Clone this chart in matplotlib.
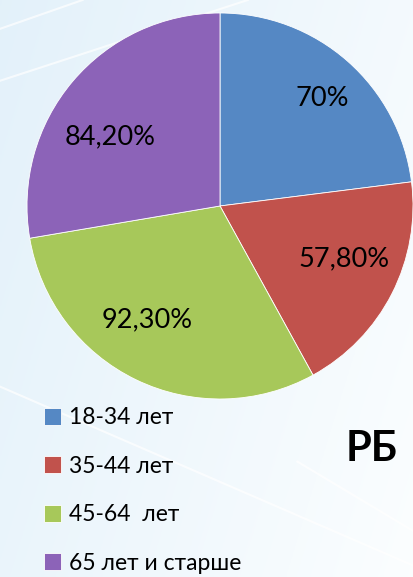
import numpy as np
import matplotlib.pyplot as plt

# данные
categories = ["18-34 лет", "35-44 лет", "45-64  лет", "65 лет и старше"]
values = [70, 57.8, 92.3, 84.2]
value_labels = ["70%", "57,80%", "92,30%", "84,20%"]
colors = ["#5588C4", "#C1524C", "#A7C85A", "#8C63B8"]
title = "РБ"

# сдвиг подписей относительно биссектрисы сектора (градусы) и радиус
label_shift = [-2, 4, -7, 8]
label_dist = [0.77, 0.70, 0.70, 0.67]

plt.rcParams['font.family'] = ['Lato', 'DejaVu Sans']

fig = plt.figure(figsize=(4.13, 5.77), dpi=100)

# фон: светло-голубой градиент с белыми линиями
bg = fig.add_axes([0, 0, 1, 1])
bg.set_axis_off()
xx, yy = np.meshgrid(np.linspace(0, 1, 200), np.linspace(0, 1, 200))
grad = np.clip(0.7 * xx + 0.3 * yy, 0, 1)
c0 = np.array([0.89, 0.945, 0.98])
c1 = np.array([0.985, 0.995, 1.0])
img = c0[None, None, :] * (1 - grad[..., None]) + c1[None, None, :] * grad[..., None]
bg.imshow(img, extent=[0, 1, 0, 1], origin="upper", aspect="auto")
for (x0, y0, x1, y1) in [(0.0, 0.86, 0.6, 1.0), (0.0, 0.95, 0.2, 1.0),
                         (0.0, 0.33, 1.0, 0.02), (0.72, 0.2, 1.0, 0.08)]:
    bg.plot([x0, x1], [y0, y1], color="white", lw=1.5, alpha=0.7)
bg.set_xlim(0, 1)
bg.set_ylim(0, 1)

# круговая диаграмма
ax = fig.add_axes([0.0654, 0.3085, 0.9346, 0.669])
wedges, texts = ax.pie(values, colors=colors, startangle=90, counterclock=False,
                       radius=1.0, wedgeprops=dict(linewidth=0.6, edgecolor="white"))
for w, lab, sh, d in zip(wedges, value_labels, label_shift, label_dist):
    ang = np.deg2rad((w.theta1 + w.theta2) / 2 + sh)
    ax.text(d * np.cos(ang), d * np.sin(ang), lab, ha="center", va="center",
            fontsize=19.5, color="black")
ax.set_xlim(-1, 1)
ax.set_ylim(-1, 1)
ax.set_aspect("equal")
ax.set_axis_off()

# легенда
leg = fig.legend(wedges, categories, loc="upper left", bbox_to_anchor=(0.085, 0.31),
                 frameon=False, fontsize=16.5, handlelength=0.75, handleheight=0.75,
                 handletextpad=0.35, labelspacing=1.2, borderaxespad=0)

fig.text(0.962, 0.222, title, ha="right", va="center", fontsize=30, fontweight="bold")

fig.savefig("out.png", dpi=100)
